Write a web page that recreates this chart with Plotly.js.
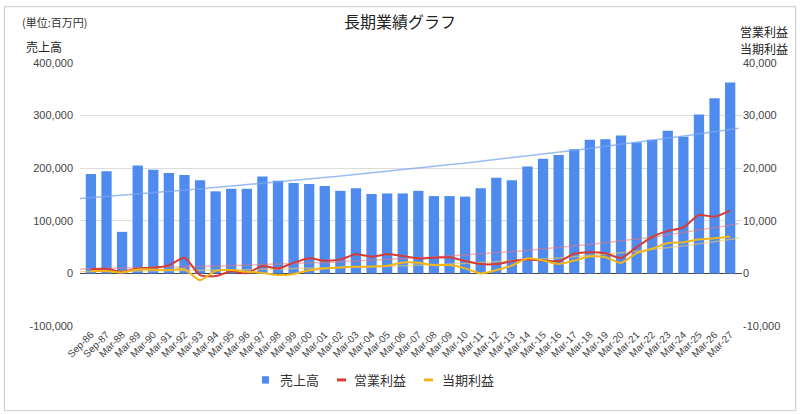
<!DOCTYPE html>
<html>
<head>
<meta charset="utf-8">
<script src="https://cdn.plot.ly/plotly-3.0.1.min.js"></script>
<style>
 body { margin:0; background:#fff; }
 #myDiv { width:800px; height:414px; }
</style>
</head>
<body>
<div id="myDiv"></div>
<script>
// 決算期
var periods = ['Sep-86','Sep-87','Mar-88','Mar-89','Mar-90','Mar-91','Mar-92','Mar-93','Mar-94','Mar-95',
 'Mar-96','Mar-97','Mar-98','Mar-99','Mar-00','Mar-01','Mar-02','Mar-03','Mar-04','Mar-05',
 'Mar-06','Mar-07','Mar-08','Mar-09','Mar-10','Mar-11','Mar-12','Mar-13','Mar-14','Mar-15',
 'Mar-16','Mar-17','Mar-18','Mar-19','Mar-20','Mar-21','Mar-22','Mar-23','Mar-24','Mar-25',
 'Mar-26','Mar-27'];

// 売上高 (百万円)
var sales = [189000,194000,79000,205000,197000,191000,187000,177000,156000,161000,
 161000,184000,176000,172000,170000,166000,157000,162000,151000,152000,
 152000,157000,147000,147000,146000,162000,182000,177000,203000,218000,
 225000,236000,254000,255000,262000,249000,254000,271000,260000,302000,
 333000,363000];

// 営業利益 (百万円)
var opProfit = [820,880,300,950,1070,1530,2980,-320,-510,400,
 50,1390,950,2000,2860,2400,2670,3620,3170,3620,
 3300,2860,2980,3050,2350,1770,1770,2310,2630,2440,
 2310,3730,4040,3850,2890,5000,6920,8080,8730,11100,
 10770,11920];

// 当期利益 (百万円)
var netProfit = [440,440,190,760,760,630,800,-1300,500,630,
 300,100,-320,-100,600,950,1140,1260,1300,1450,
 2050,2020,1580,1580,950,0,630,1480,2880,2440,
 1800,2440,3210,3080,2000,3850,4690,5770,5900,6480,
 6670,7000];

var leftTicks = [-100000,0,100000,200000,300000,400000];
var leftLabels = ['-100,000','0','100,000','200,000','300,000','400,000'];
var rightTicks = [-10000,0,10000,20000,30000,40000];
var rightLabels = ['-10,000','0','10,000','20,000','30,000','40,000'];

var seriesNames = ['売上高','営業利益','当期利益'];
var seriesColors = ['#4f8bef','#d93a32','#f2b61a'];

var idx = periods.map(function(p, i){ return i; });

// 指数近似の傾向線 (正の値を値で重み付けした対数回帰)
function expTrend(vals) {
  var w = 0, sx = 0, sy = 0, sxx = 0, sxy = 0;
  for (var i = 0; i < vals.length; i++) {
    if (vals[i] <= 0) continue;
    var ly = Math.log(vals[i]), wi = vals[i];
    w += wi; sx += wi*i; sy += wi*ly; sxx += wi*i*i; sxy += wi*i*ly;
  }
  var b = (w*sxy - sx*sy) / (w*sxx - sx*sx);
  var a = (sy - b*sx) / w;
  var xs = [], ys = [];
  for (var x = -0.7; x <= 41.6; x += 0.25) {
    xs.push(x); ys.push(Math.exp(a + b*x));
  }
  return {x: xs, y: ys};
}

var tSales = expTrend(sales);
var tOp = expTrend(opProfit);
var tNet = expTrend(netProfit);

var font = '"Liberation Sans", Arial, "Noto Sans CJK JP", sans-serif';
var jp = '"Noto Sans CJK JP", sans-serif';

var data = [
  {
    type: 'bar', name: seriesNames[0], x: idx, y: sales,
    marker: {color: seriesColors[0]}, width: 0.66
  },
  {
    type: 'scatter', mode: 'lines', x: tSales.x, y: tSales.y,
    hoverinfo: 'skip', line: {color: 'rgba(120,165,240,0.75)', width: 1.5}
  },
  {
    type: 'scatter', mode: 'lines', x: tOp.x, y: tOp.y, yaxis: 'y2',
    hoverinfo: 'skip', line: {color: 'rgba(230,120,120,0.55)', width: 1.5}
  },
  {
    type: 'scatter', mode: 'lines', x: tNet.x, y: tNet.y, yaxis: 'y2',
    hoverinfo: 'skip', line: {color: 'rgba(240,200,90,0.6)', width: 1.5}
  },
  {
    type: 'scatter', mode: 'lines', name: seriesNames[1], x: idx, y: opProfit, yaxis: 'y2',
    line: {color: seriesColors[1], width: 2, shape: 'spline', smoothing: 0.6}
  },
  {
    type: 'scatter', mode: 'lines', name: seriesNames[2], x: idx, y: netProfit, yaxis: 'y2',
    line: {color: seriesColors[2], width: 2, shape: 'spline', smoothing: 0.6}
  }
];

// 凡例 (下中央) は図形と注釈で描く
var legX = [0.2749, 0.3882, 0.5196];
var legTextX = [0.2991, 0.4109, 0.5438];
var legY = -0.205;

var annotations = [
  {xref: 'paper', yref: 'paper', x: -0.09, y: 1.156, xanchor: 'left', yanchor: 'middle',
   text: '(単位:百万円)', showarrow: false, font: {family: jp, size: 11, color: '#333'}},
  {xref: 'paper', yref: 'paper', x: -0.085, y: 1.061, xanchor: 'left', yanchor: 'middle',
   text: '売上高', showarrow: false, font: {family: jp, size: 12, color: '#222'}},
  {xref: 'paper', yref: 'paper', x: 1.072, y: 1.118, xanchor: 'right', yanchor: 'middle',
   text: '営業利益', showarrow: false, font: {family: jp, size: 12, color: '#222'}},
  {xref: 'paper', yref: 'paper', x: 1.072, y: 1.057, xanchor: 'right', yanchor: 'middle',
   text: '当期利益', showarrow: false, font: {family: jp, size: 12, color: '#222'}}
];
var shapes = [
  {type: 'rect', xref: 'paper', yref: 'paper', x0: -0.114, x1: 1.081, y0: -0.322, y1: 1.214,
   line: {color: '#c8c8c8', width: 1}, fillcolor: 'rgba(0,0,0,0)', layer: 'below'},
  {type: 'rect', xref: 'paper', yref: 'paper', x0: legX[0], x1: legX[0] + 0.0106,
   y0: legY - 0.014, y1: legY + 0.014, line: {width: 0}, fillcolor: seriesColors[0]}
];
for (var k = 1; k < 3; k++) {
  shapes.push({type: 'line', xref: 'paper', yref: 'paper', x0: legX[k], x1: legX[k] + 0.0136,
    y0: legY, y1: legY, line: {color: seriesColors[k], width: 3}});
}
for (var k = 0; k < 3; k++) {
  annotations.push({xref: 'paper', yref: 'paper', x: legTextX[k], y: legY, xanchor: 'left',
    yanchor: 'middle', text: seriesNames[k], showarrow: false,
    font: {family: jp, size: 13, color: '#333'}});
}

var layout = {
  width: 800, height: 414,
  margin: {l: 80, r: 58, t: 63, b: 88},
  paper_bgcolor: '#fff', plot_bgcolor: '#fff',
  font: {family: font, size: 11, color: '#444'},
  title: {
    text: '長期業績グラフ', x: 0.5, xanchor: 'center', y: 0.945, yanchor: 'middle',
    font: {family: jp, size: 16, color: '#222'}
  },
  showlegend: false,
  bargap: 0.3,
  xaxis: {
    range: [-0.7, 41.76], tickvals: idx, ticktext: periods, tickangle: -45,
    showgrid: false, zeroline: false, showline: false, ticks: '',
    tickfont: {size: 10, color: '#444'}
  },
  yaxis: {
    range: [-100000, 400000], tickvals: leftTicks, ticktext: leftLabels,
    showgrid: true, gridcolor: '#dcdcdc', gridwidth: 1,
    zeroline: true, zerolinecolor: '#444', zerolinewidth: 1,
    showline: false, ticks: '', ticklabelstandoff: 6,
    tickfont: {size: 11, color: '#444'}
  },
  yaxis2: {
    overlaying: 'y', side: 'right',
    range: [-10000, 40000], tickvals: rightTicks, ticktext: rightLabels,
    showgrid: false, zeroline: false, showline: false, ticks: '',
    tickfont: {size: 11, color: '#444'}
  },
  annotations: annotations,
  shapes: shapes
};

Plotly.newPlot('myDiv', data, layout, {displayModeBar: false, staticPlot: true});
</script>
</body>
</html>
